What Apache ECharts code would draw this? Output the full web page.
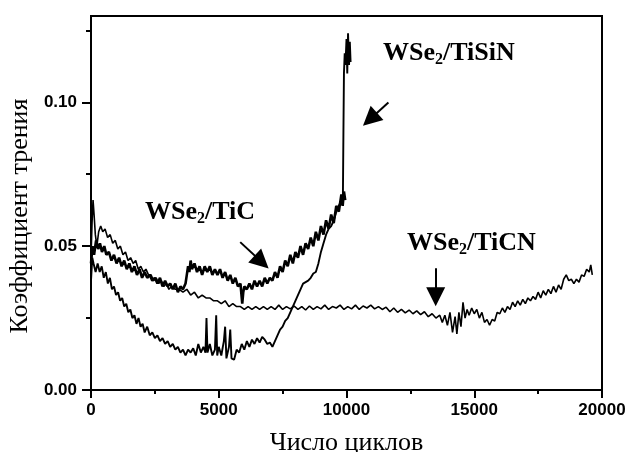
<!DOCTYPE html>
<html>
<head>
<meta charset="utf-8">
<script src="https://cdn.jsdelivr.net/npm/echarts@6.0.0/dist/echarts.min.js"></script>
<style>
  html, body { margin: 0; padding: 0; background: #fff; }
  #chart { width: 627px; height: 452px; }
</style>
</head>
<body>
<div id="chart"></div>
<script>
// оси
const xTicks = [0, 5000, 10000, 15000, 20000];
const yMajor = [0, 0.05, 0.10];
const yMinor = [0.025, 0.075, 0.125];

// WSe2/TiC  [число циклов, коэффициент трения]
const ticData = [
  [0,0.044],[60,0.050],[120,0.047],[200,0.052],[280,0.049],[350,0.051],[430,0.048],[520,0.050],
  [600,0.047],[700,0.048],[800,0.045],[900,0.047],[1000,0.044],[1100,0.046],[1200,0.043],[1300,0.045],
  [1400,0.042],[1500,0.044],[1600,0.041],[1700,0.043],[1800,0.040],[1900,0.042],[2000,0.039],[2100,0.041],
  [2200,0.039],[2300,0.040],[2400,0.038],[2500,0.039],[2600,0.037],[2700,0.039],[2800,0.036],[2900,0.038],
  [3000,0.036],[3100,0.037],[3200,0.035],[3300,0.037],[3400,0.034],[3500,0.036],[3600,0.035],[3700,0.037],
  [3750,0.040],[3800,0.043],[3850,0.041],[3900,0.045],[3950,0.042],[4050,0.044],[4150,0.041],[4250,0.043],
  [4350,0.040],[4450,0.043],[4550,0.041],[4650,0.043],[4750,0.040],[4850,0.042],[4950,0.040],[5050,0.042],
  [5150,0.039],[5250,0.041],[5350,0.038],[5450,0.040],[5550,0.037],[5650,0.039],[5750,0.036],[5850,0.037],
  [5920,0.030],[5960,0.034],[6000,0.036],[6100,0.035],[6200,0.037],[6300,0.035],[6400,0.038],[6500,0.036],
  [6600,0.038],[6700,0.036],[6800,0.039],[6900,0.037],[7000,0.039],[7100,0.038],[7200,0.041],[7300,0.039],
  [7400,0.043],[7500,0.041],[7600,0.045],[7700,0.043],[7800,0.047],[7900,0.044],[8000,0.048],[8100,0.046],
  [8200,0.050],[8300,0.047],[8400,0.051],[8500,0.049],[8600,0.053],[8700,0.050],[8800,0.055],[8900,0.052],
  [9000,0.057],[9100,0.054],[9200,0.059],[9300,0.056],[9400,0.061],[9500,0.058],[9600,0.064],[9700,0.062],
  [9800,0.068],[9850,0.064],[9900,0.069],[9950,0.066]
];

// WSe2/TiSiN
const tisinData = [
  [0,0.038],[50,0.046],[100,0.044],[180,0.041],[260,0.044],[340,0.041],[420,0.043],[500,0.039],
  [580,0.041],[660,0.037],[740,0.039],[820,0.035],[900,0.036],[980,0.033],[1060,0.034],[1140,0.031],
  [1220,0.032],[1300,0.029],[1380,0.030],[1460,0.027],[1540,0.028],[1620,0.025],[1700,0.026],[1780,0.023],
  [1860,0.025],[1940,0.022],[2020,0.023],[2100,0.020],[2200,0.022],[2300,0.019],[2400,0.020],[2500,0.018],
  [2600,0.019],[2700,0.017],[2800,0.018],[2900,0.016],[3000,0.017],[3100,0.015],[3200,0.016],[3300,0.014],
  [3400,0.015],[3500,0.013],[3600,0.014],[3700,0.012],[3800,0.014],[3900,0.013],[4000,0.0145],[4100,0.012],
  [4200,0.016],[4300,0.013],[4400,0.015],[4480,0.013],[4520,0.025],[4560,0.013],[4650,0.016],[4750,0.012],
  [4850,0.014],[4900,0.026],[4940,0.012],[5000,0.015],[5100,0.012],[5200,0.017],[5250,0.022],[5300,0.011],
  [5400,0.015],[5450,0.021],[5500,0.011],[5600,0.0105],[5700,0.014],[5800,0.013],[5900,0.016],[6000,0.014],
  [6100,0.017],[6200,0.015],[6300,0.0175],[6400,0.016],[6500,0.018],[6600,0.0165],[6700,0.0185],[6800,0.0175],
  [6900,0.016],[7000,0.0165],[7100,0.015],[7200,0.017],[7300,0.019],[7400,0.021],[7500,0.022],[7600,0.024],
  [7700,0.025],[7800,0.027],[7900,0.029],[8000,0.031],[8100,0.033],[8200,0.035],[8300,0.037],[8400,0.0375],
  [8500,0.038],[8600,0.039],[8700,0.0405],[8800,0.041],[8900,0.044],[9000,0.048],[9100,0.051],[9200,0.054],
  [9300,0.056],[9400,0.057],[9500,0.059],[9600,0.062],[9700,0.064],[9800,0.066],[9860,0.068],[9880,0.090],
  [9900,0.110],[9930,0.117],[9960,0.113],[10000,0.122],[10030,0.110],[10060,0.124],[10100,0.113],[10130,0.121],
  [10160,0.114]
];

// WSe2/TiCN
const ticnData = [
  [0,0.046],[40,0.058],[80,0.066],[120,0.061],[170,0.054],[230,0.050],[300,0.055],[380,0.057],
  [460,0.055],[550,0.056],[650,0.053],[750,0.054],[850,0.051],[950,0.052],[1050,0.049],[1150,0.050],
  [1250,0.047],[1350,0.048],[1450,0.045],[1550,0.046],[1650,0.044],[1750,0.045],[1850,0.042],[1950,0.043],
  [2050,0.041],[2150,0.042],[2250,0.040],[2350,0.040],[2450,0.038],[2550,0.039],[2650,0.037],[2750,0.038],
  [2850,0.036],[2950,0.037],[3050,0.035],[3150,0.036],[3300,0.035],[3450,0.035],[3600,0.034],[3750,0.035],
  [3900,0.033],[4050,0.034],[4200,0.032],[4350,0.033],[4500,0.032],[4650,0.032],[4800,0.031],[4950,0.031],
  [5100,0.030],[5250,0.031],[5400,0.029],[5550,0.030],[5700,0.029],[5850,0.029],[6000,0.028],[6150,0.029],
  [6300,0.028],[6450,0.029],[6600,0.028],[6750,0.029],[6900,0.028],[7050,0.029],[7200,0.028],[7350,0.0295],
  [7500,0.028],[7650,0.029],[7800,0.0282],[7950,0.0292],[8100,0.028],[8250,0.029],[8400,0.0278],[8550,0.0292],
  [8700,0.028],[8850,0.029],[9000,0.0282],[9150,0.0295],[9300,0.028],[9450,0.029],[9600,0.0285],[9750,0.0295],
  [9900,0.028],[10050,0.029],[10200,0.0282],[10350,0.0295],[10500,0.028],[10650,0.0292],[10800,0.0285],[10950,0.0295],
  [11100,0.0282],[11250,0.029],[11400,0.028],[11550,0.0288],[11700,0.0272],[11850,0.0285],[12000,0.027],[12150,0.028],
  [12300,0.0268],[12450,0.0278],[12600,0.0265],[12750,0.0275],[12900,0.0262],[13050,0.0272],[13200,0.0255],[13350,0.0265],
  [13500,0.025],[13650,0.026],[13750,0.0235],[13850,0.026],[13950,0.0225],[14050,0.027],[14150,0.020],[14250,0.0255],
  [14320,0.0195],[14400,0.027],[14480,0.022],[14560,0.0305],[14640,0.025],[14720,0.028],[14800,0.026],[14900,0.0285],
  [15000,0.0265],[15100,0.028],[15200,0.025],[15300,0.027],[15400,0.0235],[15500,0.0245],[15600,0.0225],[15700,0.0245],
  [15800,0.024],[15900,0.027],[16000,0.0265],[16100,0.0285],[16200,0.027],[16300,0.029],[16400,0.028],[16500,0.0305],
  [16600,0.029],[16700,0.031],[16800,0.0295],[16900,0.0315],[17000,0.030],[17100,0.032],[17200,0.031],[17300,0.0325],
  [17400,0.0315],[17500,0.034],[17600,0.032],[17700,0.0345],[17800,0.033],[17900,0.035],[18000,0.0335],[18100,0.036],
  [18200,0.034],[18300,0.0365],[18400,0.035],[18500,0.0385],[18600,0.040],[18700,0.038],[18800,0.0385],[18900,0.037],
  [19000,0.0385],[19100,0.0375],[19200,0.040],[19300,0.0395],[19400,0.042],[19500,0.041],[19560,0.0435],[19620,0.040]
];

// стрелки: [начало, конец]
const arrows = [
  [[5840, 0.0514], [6680, 0.0445]],
  [[11640, 0.0999], [10920, 0.0941]],
  [[13490, 0.0423], [13490, 0.0324]]
];

const serif = "'Liberation Serif', 'DejaVu Serif', serif";
const sans = "'Liberation Sans', Arial, sans-serif";

const chart = echarts.init(document.getElementById('chart'));

const labelText = function (name, left, top) {
  return {
    type: 'text',
    left: left,
    top: top,
    z: 10,
    style: {
      text: '{a|WSe}{s|2}{a|/' + name + '}',
      rich: {
        a: { fontFamily: serif, fontWeight: 'bold', fontSize: 26, lineHeight: 30, fill: '#000' },
        s: { fontFamily: serif, fontWeight: 'bold', fontSize: 16, lineHeight: 16, verticalAlign: 'bottom', fill: '#000' }
      }
    }
  };
};

const seriesLine = function (data, width) {
  return {
    type: 'line',
    data: data,
    showSymbol: false,
    symbol: 'none',
    animation: false,
    lineStyle: { color: '#000', width: width },
    z: 3
  };
};

const option = {
  animation: false,
  backgroundColor: '#fff',
  grid: { left: 91, right: 25, top: 16, bottom: 62, show: true, borderColor: '#000', borderWidth: 2,
    outerBoundsMode: 'none', containLabel: false },
  xAxis: {
    type: 'value',
    min: 0,
    max: 20000,
    interval: 5000,
    name: 'Число циклов',
    nameLocation: 'middle',
    nameGap: 40,
    nameTextStyle: { fontFamily: serif, fontSize: 26, color: '#000' },
    axisLine: { lineStyle: { color: '#000', width: 2 } },
    axisTick: { show: true, length: 8, lineStyle: { color: '#000', width: 2 } },
    minorTick: { show: true, splitNumber: 2, length: 4, lineStyle: { color: '#000', width: 2 } },
    axisLabel: { margin: 12, fontFamily: sans, fontWeight: 'bold', fontSize: 17, color: '#000',
      customValues: xTicks, formatter: function (v) { return String(v); } },
    splitLine: { show: false }
  },
  yAxis: [{
    type: 'value',
    min: 0,
    max: 0.13,
    interval: 0.05,
    name: 'Коэффициент трения',
    nameLocation: 'middle',
    nameGap: 52,
    nameTextStyle: { fontFamily: serif, fontSize: 26, color: '#000', padding: [0, 26, 0, 0] },
    axisLine: { show: true, lineStyle: { color: '#000', width: 2 } },
    axisTick: { show: true, length: 9, customValues: yMajor, lineStyle: { color: '#000', width: 2 } },
    axisLabel: { margin: 14, fontFamily: sans, fontWeight: 'bold', fontSize: 17, color: '#000',
      customValues: yMajor, formatter: function (v) { return v.toFixed(2); } },
    splitLine: { show: false }
  }, {
    type: 'value',
    min: 0,
    max: 0.13,
    position: 'left',
    axisLine: { show: false },
    axisTick: { show: true, length: 5, customValues: yMinor, lineStyle: { color: '#000', width: 2 } },
    axisLabel: { show: false },
    splitLine: { show: false }
  }],
  series: [
    seriesLine(ticData, 2.6),
    seriesLine(tisinData, 1.9),
    Object.assign(seriesLine(ticnData, 1.6), {
      markLine: {
        silent: true,
        symbol: ['none', 'triangle'],
        symbolSize: 19,
        label: { show: false },
        lineStyle: { color: '#000', width: 2, type: 'solid' },
        data: arrows.map(function (a) {
          return [{ coord: a[0] }, { coord: a[1] }];
        })
      }
    })
  ],
  graphic: [
    labelText('TiSiN', 383, 40),
    labelText('TiC', 145, 199),
    labelText('TiCN', 407, 230)
  ]
};

chart.setOption(option);
</script>
</body>
</html>
